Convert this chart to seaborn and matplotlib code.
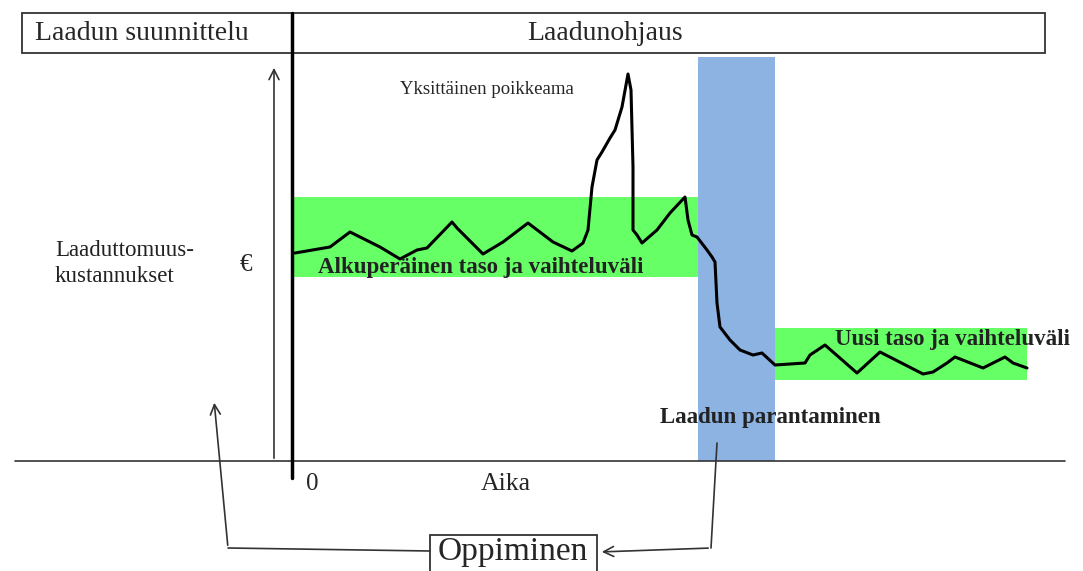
import pandas as pd
import seaborn as sns
import matplotlib.pyplot as plt
from matplotlib.patches import Rectangle

# quality cost curve (time from start, cost level)
aika = [3, 38, 58, 68, 88, 108, 125, 135, 160, 165, 191, 211, 236, 261, 280, 291,
        296, 300, 305, 310, 318, 323, 330, 336, 339, 341, 341, 345, 350, 365, 378,
        393, 396, 400, 405, 415, 420, 423, 425, 428, 438, 448, 461, 470, 483, 513,
        518, 533, 565, 588, 631, 641, 655, 663, 691, 713, 721, 735]
kustannus = [208, 214, 229, 224, 214, 202, 211, 213, 239, 233, 207, 219, 238, 219, 210, 218,
             231, 274, 301, 309, 323, 331, 354, 387, 371, 294, 231, 226, 218, 231, 248,
             264, 241, 226, 224, 211, 204, 199, 158, 134, 121, 111, 106, 108, 96, 98,
             106, 116, 88, 109, 87, 89, 98, 104, 93, 104, 98, 93]

# bands: (start, end, low, high)
alkup_alue = (1, 406, 184, 264)
parannus_alue = (406, 483, 0, 404)
uusi_alue = (483, 735, 81, 133)

df = pd.DataFrame({"aika": aika, "kustannus": kustannus})

sns.set_theme(style="white")
plt.rcParams["font.family"] = ["Liberation Serif", "DejaVu Serif"]

fig = plt.figure(figsize=(10.83, 5.71), dpi=100)
ax = fig.add_axes([0, 0, 1, 1])

green = "#66ff66"
blue = "#8db3e2"
for (x0, x1, y0, y1), col in [(alkup_alue, green), (parannus_alue, blue), (uusi_alue, green)]:
    ax.fill_between([x0, x1], y0, y1, color=col, lw=0, zorder=1)

sns.lineplot(data=df, x="aika", y="kustannus", sort=False, estimator=None,
             color="black", lw=2.2, ax=ax, zorder=3,
             solid_joinstyle="round", solid_capstyle="round")
ax.set_xlim(-292, 791)
ax.set_ylim(-110, 461)
ax.axis("off")

# axes and frame
line_col = "#333333"
ax.plot([-277, 773], [0, 0], color=line_col, lw=1.2, zorder=2)
ax.plot([0, 0], [448, -17], color="black", lw=2.5, zorder=4)
ax.annotate("", xy=(-18, 396), xytext=(-18, 0),
            arrowprops=dict(arrowstyle="->", color=line_col, lw=1.2, mutation_scale=18))
ax.add_patch(Rectangle((-270, 408), 1023, 40, fill=False, ec=line_col, lw=1.3, zorder=2))
ax.add_patch(Rectangle((138, -116), 167, 42, fc="white", ec=line_col, lw=1.3, zorder=2))

# learning loop arrows
ax.plot([138, -64], [-90, -87], color=line_col, lw=1.2)
ax.annotate("", xy=(-78, 61), xytext=(-64, -87),
            arrowprops=dict(arrowstyle="->", color=line_col, lw=1.2, mutation_scale=18))
ax.plot([425, 419], [18, -87], color=line_col, lw=1.2)
ax.annotate("", xy=(307, -91), xytext=(419, -87),
            arrowprops=dict(arrowstyle="->", color=line_col, lw=1.2, mutation_scale=18))

# texts
ax.text(-257, 428, "Laadun suunnittelu", fontsize=20, ha="left", va="center")
ax.text(313, 428, "Laadunohjaus", fontsize=20, ha="center", va="center")
ax.text(108, 371, "Yksittäinen poikkeama", fontsize=13.5, ha="left", va="center")
ax.text(26, 193, "Alkuperäinen taso ja vaihteluväli", fontsize=16.5, fontweight="bold",
        ha="left", va="center", color="#222222", zorder=5)
ax.text(543, 121, "Uusi taso ja vaihteluväli", fontsize=16.5, fontweight="bold",
        ha="left", va="center", color="#222222", zorder=5)
ax.text(368, 43, "Laadun parantaminen", fontsize=16.5, fontweight="bold",
        ha="left", va="center", color="#222222", zorder=5)
ax.text(-237, 211, "Laaduttomuus-", fontsize=16.5, ha="left", va="center", color="#222222")
ax.text(-237, 184, "kustannukset", fontsize=16.5, ha="left", va="center", color="#222222")
ax.text(-46, 196, "€", fontsize=18, ha="center", va="center")
ax.text(20, -23, "0", fontsize=18, ha="center", va="center")
ax.text(214, -23, "Aika", fontsize=18.5, ha="center", va="center")
ax.text(221, -91, "Oppiminen", fontsize=24, ha="center", va="center", zorder=5)

plt.savefig("out.png", dpi=100)
